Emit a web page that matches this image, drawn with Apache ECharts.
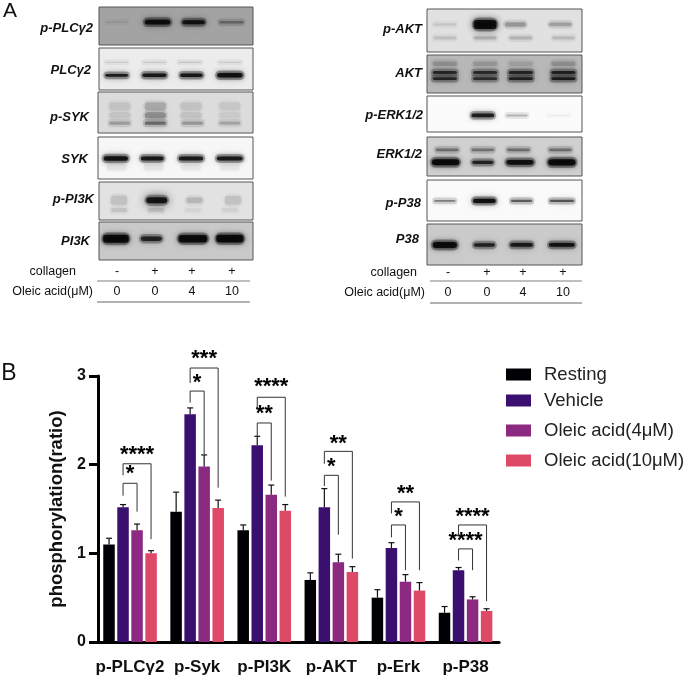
<!DOCTYPE html>
<html>
<head>
<meta charset="utf-8">
<style>
  html, body { margin: 0; padding: 0; background: #fff; }
  #chart { width: 685px; height: 676px; }
</style>
<script src="https://cdn.jsdelivr.net/npm/echarts@6/dist/echarts.min.js"></script>
</head>
<body>
<div id="chart"></div>
<script>
// bar chart values
const categories = ['p-PLCγ2', 'p-Syk', 'p-PI3K', 'p-AKT', 'p-Erk', 'p-P38'];
const seriesNames = ['Resting', 'Vehicle', 'Oleic acid(4μM)', 'Oleic acid(10μM)'];
const resting = [1.10, 1.47, 1.26, 0.70, 0.50, 0.33];
const vehicle = [1.52, 2.57, 2.22, 1.52, 1.06, 0.81];
const oleic4 = [1.26, 1.98, 1.66, 0.90, 0.68, 0.48];
const oleic10 = [1.00, 1.51, 1.48, 0.79, 0.58, 0.35];
// top of the error bars
const restingTop = [1.17, 1.69, 1.32, 0.78, 0.59, 0.40];
const vehicleTop = [1.55, 2.64, 2.32, 1.73, 1.12, 0.84];
const oleic4Top = [1.33, 2.11, 1.77, 0.99, 0.76, 0.51];
const oleic10Top = [1.03, 1.60, 1.55, 0.85, 0.67, 0.375];
// significance brackets: category, to bar, top, left end, right end, star value, stars
const brackets = [
  [0, 2, 1.79, 1.65, 1.47, 1.94, '*'],
  [0, 3, 2.01, 1.88, 1.16, 2.15, '****'],
  [1, 2, 2.83, 2.70, 2.12, 2.97, '*'],
  [1, 3, 3.09, 2.92, 1.74, 3.24, '***'],
  [2, 2, 2.47, 2.32, 1.82, 2.62, '**'],
  [2, 3, 2.76, 2.62, 1.64, 2.92, '****'],
  [3, 2, 1.88, 1.76, 1.21, 2.02, '*'],
  [3, 3, 2.15, 2.01, 0.94, 2.28, '**'],
  [4, 2, 1.32, 1.18, 0.81, 1.46, '*'],
  [4, 3, 1.58, 1.45, 0.81, 1.72, '**'],
  [5, 2, 1.05, 0.92, 0.81, 1.19, '****'],
  [5, 3, 1.32, 1.20, 0.46, 1.46, '****']
];

// band darkness per lane
const pPLCg2Band = [0.1, 0.95, 0.9, 0.35];
const PLCg2Upper = [0.14, 0.16, 0.18, 0.14];
const PLCg2Lower = [0.9, 0.92, 0.92, 0.95];
const pSYKUpper = [0.1, 0.2, 0.1, 0.08];
const pSYKMiddle = [0.09, 0.3, 0.1, 0.07];
const pSYKLower = [0.26, 0.48, 0.28, 0.22];
const SYKBand = [0.95, 0.92, 0.9, 0.9];
const SYKSmear = [0.06, 0.06, 0.05, 0.05];
const pPI3KUpper = [0.12, 0.95, 0.16, 0.12];
const pPI3KLower = [0.12, 0.12, 0.05, 0.06];
const PI3KBand = [0.97, 0.8, 0.96, 0.97];
const pAKTUpper = [0.1, 0.98, 0.28, 0.25];
const pAKTLower = [0.13, 0.2, 0.18, 0.15];
const AKTFaint = [0.2, 0.16, 0.12, 0.2];
const AKTUpper = [0.75, 0.72, 0.78, 0.8];
const AKTLower = [0.78, 0.72, 0.82, 0.85];
const pERKBand = [0, 0.88, 0.25, 0.07];
const ERKUpper = [0.42, 0.4, 0.42, 0.42];
const ERKLower = [0.98, 0.82, 0.95, 0.98];
const pP38Band = [0.45, 0.97, 0.58, 0.62];
const P38Band = [0.97, 0.82, 0.88, 0.93];

const leftLanes = [11.5, 37, 61, 86];
const rightLanes = [11.5, 37.5, 60.5, 88];
const tint = (v) => 'rgba(0,0,0,' + v + ')';

// row = band line inside a blot, y and sizes in % of the blot
function row(values, y, thick, width, blur, lanes) {
  return { values, y, thick, width, blur: blur || 3, lanes };
}
const blots = [
  { name: 'p-PLCγ2', x: 99, y: 7, w: 154, h: 38, bg: '#a3a3a3', tx: 93, ty: 28, rows: [
    row(pPLCg2Band, 40, [6, 15, 13, 9], [15, 18, 16, 17], 3, [11.5, 38, 61.5, 86])] },
  { name: 'PLCγ2', x: 99, y: 48, w: 154, h: 42, bg: '#ececec', tx: 91, ty: 70, rows: [
    row(PLCg2Upper, 34, 5, 16, 3, [11.5, 36, 59, 85]),
    row(PLCg2Lower, 65, [9, 11, 11, 13], [16, 17, 16, 18], 3, [11.5, 36, 60, 85])] },
  { name: 'p-SYK', x: 98, y: 92, w: 155, h: 41, bg: '#dcdcdc', tx: 89, ty: 117, rows: [
    row(pSYKUpper, 35, 22, 15, 9, [14, 37, 60, 85]),
    row(pSYKMiddle, 57, 18, 15, 9, [14, 37, 60, 85]),
    row(pSYKLower, 76, 10, 15, 7, [14, 37, 61, 85])] },
  { name: 'SYK', x: 98, y: 137, w: 155, h: 42, bg: '#f7f7f7', tx: 88, ty: 159, rows: [
    row(SYKSmear, 72, 18, 14, 6, [12, 36, 60, 85]),
    row(SYKBand, 51, [13, 12, 12, 12], [17, 16, 17, 18], 3, [11.5, 35, 60, 85])] },
  { name: 'p-PI3K', x: 99, y: 182, w: 154, h: 38, bg: '#e2e2e2', tx: 94, ty: 199, rows: [
    row(pPI3KLower, 74, 14, 12, 8, [13, 37, 61, 85]),
    row(pPI3KUpper, 48, [28, 18, 18, 26], [12, 15, 12, 12], 6, [13, 37.5, 62, 87])] },
  { name: 'PI3K', x: 99, y: 222, w: 154, h: 38, bg: '#c9c9c9', tx: 90, ty: 241, rows: [
    row(PI3KBand, 44, [24, 14, 22, 23], [18, 15, 20, 19], 3, [11, 34, 61, 85])] },
  { name: 'p-AKT', x: 427, y: 9, w: 155, h: 43, bg: '#e1e1e1', tx: 422, ty: 29, rows: [
    row(pAKTLower, 67, 10, 16, 7, rightLanes),
    row(pAKTUpper, 36, [8, 23, 13, 11], [16, 16, 15, 16], 4, [11.5, 37.5, 57, 86])] },
  { name: 'AKT', x: 427, y: 55, w: 155, h: 38, bg: '#b8b8b8', tx: 422, ty: 73, rows: [
    row(AKTFaint, 23, 14, 17, 6, [11.5, 37.5, 60.5, 88]),
    row(AKTUpper, 46, 11, 17, 3, [11.5, 37.5, 60.5, 88]),
    row(AKTLower, 62, 10, 17, 3, [11.5, 37.5, 60.5, 88])] },
  { name: 'p-ERK1/2', x: 427, y: 96, w: 155, h: 36, bg: '#fbfbfb', tx: 423, ty: 115, rows: [
    row(pERKBand, 54, [4, 13, 8, 5], [15, 16, 15, 16], 3, [11.5, 36, 58, 85])] },
  { name: 'ERK1/2', x: 427, y: 137, w: 155, h: 39, bg: '#d0d0d0', tx: 422, ty: 154, rows: [
    row(ERKUpper, 33, 9, 16, 3, [13, 36, 59, 86]),
    row(ERKLower, 65, [18, 11, 15, 19], [19, 15, 19, 19], 3, [12, 36, 60, 87])] },
  { name: 'p-P38', x: 427, y: 180, w: 155, h: 41, bg: '#fafafa', tx: 421, ty: 203, rows: [
    row(pP38Band, 51, [7, 13, 8, 8], [15, 16, 15, 17], 3, [11.5, 37, 61, 87])] },
  { name: 'P38', x: 427, y: 224, w: 155, h: 41, bg: '#cbcbcb', tx: 419, ty: 239, rows: [
    row(P38Band, 51, [17, 11, 12, 12], [17, 15, 16, 18], 3, [11.5, 37, 61, 87])] }
];

// text under the blots
const collagenMarks = ['-', '+', '+', '+'];
const doseLabels = ['0', '0', '4', '10'];
const doseUnderLeft = { x: [117, 155, 192, 232], textX: 76, nameX: 93, y1: 272, y2: 292, line1: 281, line2: 302, from: 97, to: 250 };
const doseUnderRight = { x: [448, 487, 523, 563], textX: 417, nameX: 425, y1: 273, y2: 293, line1: 281, line2: 303, from: 430, to: 582 };

const fontFam = '"Liberation Sans", Arial, sans-serif';
const barPitch = 14;   // distance between bars in a group

function textEl(text, x, y, font, align) {
  return {
    type: 'text', silent: true,
    style: { text, x, y, font, fill: '#111', textAlign: align || 'center', textVerticalAlign: 'middle', align: align || 'center', verticalAlign: 'middle' }
  };
}
function lineEl(x1, y, x2, color, width) {
  return { type: 'line', silent: true, shape: { x1, y1: y, x2, y2: y }, style: { stroke: color, lineWidth: width } };
}

let graphicEls = [
  textEl('A', 10, 11, '21px ' + fontFam),
  textEl('B', 9, 374, '23px ' + fontFam)
];
blots.forEach(function (b) {
  graphicEls.push(textEl(b.name, b.tx, b.ty, 'italic bold 13px ' + fontFam, 'right'));
});
[doseUnderLeft, doseUnderRight].forEach(function (u) {
  graphicEls.push(textEl('collagen', u.textX, u.y1, '12.5px ' + fontFam, 'right'));
  graphicEls.push(textEl('Oleic acid(μM)', u.nameX, u.y2, '12.5px ' + fontFam, 'right'));
  u.x.forEach(function (x, i) {
    graphicEls.push(textEl(collagenMarks[i], x, u.y1, '12.5px ' + fontFam));
    graphicEls.push(textEl(doseLabels[i], x, u.y2, '12.5px ' + fontFam));
  });
  graphicEls.push(lineEl(u.from, u.line1, u.to, '#aaaaaa', 1.5));
  graphicEls.push(lineEl(u.from, u.line2, u.to, '#666666', 1));
});

const barColors = ['#000004', '#3b0f70', '#8c2981', '#de4968'];
const allValues = [resting, vehicle, oleic4, oleic10];
const allTops = [restingTop, vehicleTop, oleic4Top, oleic10Top];

// main grid first, blots after it
let grids = [{ left: 96.5, width: 402.6, top: 376, height: 267 }];
let xAxes = [{
  type: 'category', data: categories, gridIndex: 0,
  axisLine: { lineStyle: { color: '#000', width: 3 } },
  axisTick: { alignWithLabel: true, length: 9, lineStyle: { color: '#000', width: 3 } },
  axisLabel: { color: '#111', fontSize: 17, fontWeight: 'bold', fontFamily: fontFam, margin: 17, interval: 0 }
}];
let yAxes = [{
  type: 'value', gridIndex: 0, min: 0, max: 3, interval: 1, offset: -1.5,
  name: 'phosphorylation(ratio)', nameLocation: 'middle', nameGap: 31,
  nameTextStyle: { color: '#111', fontSize: 18.5, fontWeight: 'bold', fontFamily: fontFam },
  axisLine: { show: true, lineStyle: { color: '#000', width: 3 } },
  axisTick: { show: true, length: 9, lineStyle: { color: '#000', width: 3 } },
  axisLabel: { color: '#111', fontSize: 16, fontWeight: 'bold', fontFamily: fontFam, margin: 12 },
  splitLine: { show: false }
}];

let series = [];
seriesNames.forEach(function (name, s) {
  series.push({
    name, type: 'bar', data: allValues[s], barWidth: 11.5, barGap: '22%',
    itemStyle: { color: barColors[s] }, silent: true
  });
});

// error bars
seriesNames.forEach(function (name, s) {
  series.push({
    type: 'custom', silent: true, z: 3,
    data: allTops[s].map((t, i) => [i, allValues[s][i], t]),
    encode: { x: 0, y: 2 },
    renderItem: function (params, api) {
      const bottom = api.coord([api.value(0), api.value(1)]);
      const top = api.coord([api.value(0), api.value(2)]);
      const x = bottom[0] + (s - 1.5) * barPitch;
      const st = { stroke: '#111', lineWidth: 1.2, fill: null };
      return { type: 'group', children: [
        { type: 'line', shape: { x1: x, y1: bottom[1], x2: x, y2: top[1] }, style: st },
        { type: 'line', shape: { x1: x - 3, y1: top[1], x2: x + 3, y2: top[1] }, style: st }
      ] };
    }
  });
});

// brackets and stars
series.push({
  type: 'custom', silent: true, z: 4,
  data: brackets.map((b) => [b[0], b[2], b[3], b[4], b[5]]),
  encode: { x: 0, y: 1 },
  renderItem: function (params, api) {
    const b = brackets[params.dataIndex];
    const centre = api.coord([b[0], 0])[0];
    const xl = centre - 0.5 * barPitch;
    const xr = centre + (b[1] - 1.5) * barPitch;
    const py = (v) => api.coord([b[0], v])[1];
    return { type: 'group', children: [
      { type: 'polyline',
        shape: { points: [[xl, py(b[3])], [xl, py(b[2])], [xr, py(b[2])], [xr, py(b[4])]] },
        style: { stroke: '#333', lineWidth: 1, fill: null } },
      { type: 'text',
        style: { text: b[6], x: (xl + xr) / 2, y: py(b[5]) + 4, fill: '#000', font: 'bold 22px ' + fontFam,
          textAlign: 'center', textVerticalAlign: 'middle', align: 'center', verticalAlign: 'middle' } }
    ] };
  }
});

// blots: each one is a small grid with 0-100 axes
blots.forEach(function (b, i) {
  const idx = i + 1;
  grids.push({
    left: b.x, top: b.y, width: b.w, height: b.h, show: true,
    backgroundColor: b.bg, borderColor: '#555', borderWidth: 1
  });
  xAxes.push({ type: 'value', gridIndex: idx, min: 0, max: 100, show: false });
  yAxes.push({ type: 'value', gridIndex: idx, min: 0, max: 100, inverse: true, show: false });
  b.rows.forEach(function (r) {
    const lanes = r.lanes || (b.x < 300 ? leftLanes : rightLanes);
    series.push({
      type: 'custom', xAxisIndex: idx, yAxisIndex: idx, silent: true, clip: true,
      data: r.values.map((v, lane) => [lanes[lane], r.y, v]),
      encode: { x: 0, y: 1 },
      renderItem: function (params, api) {
        const lane = params.dataIndex;
        const w = Array.isArray(r.width) ? r.width[lane] : r.width;
        const t = Array.isArray(r.thick) ? r.thick[lane] : r.thick;
        const c = api.coord([api.value(0), api.value(1)]);
        const sz = api.size([w, t]);
        const d = api.value(2);
        const soft = Math.min(sz[1], 6);
        // soft halo under a core, the real gel bands have no hard edge
        return { type: 'group', children: [
          { type: 'rect',
            shape: { x: c[0] - sz[0] / 2 - 1, y: c[1] - sz[1] / 2 - 2, width: sz[0] + 2, height: sz[1] + 4, r: sz[1] / 2 + 2 },
            style: { fill: tint(d * 0.3), shadowBlur: r.blur + 5, shadowColor: tint(d * 0.4) } },
          { type: 'rect',
            shape: { x: c[0] - sz[0] / 2 + 1, y: c[1] - sz[1] / 2 + 0.5, width: sz[0] - 2, height: sz[1] - 1, r: soft / 2 },
            style: { fill: tint(d * 0.85), shadowBlur: r.blur + 2, shadowColor: tint(d) } }
        ] };
      }
    });
  });
});

// legend spacing is uneven in the figure, so one legend per row
const legendTops = [365, 391, 421, 451];
const legends = seriesNames.map(function (name, i) {
  return {
    data: [name], left: 506, top: legendTops[i], orient: 'vertical', padding: 0,
    icon: 'rect', itemWidth: 25, itemHeight: 12, selectedMode: false,
    textStyle: { color: '#222', fontSize: 18.5, fontFamily: fontFam, padding: [0, 0, 0, 8] }
  };
});

const myChart = echarts.init(document.getElementById('chart'));
myChart.setOption({
  animation: false,
  backgroundColor: '#fff',
  legend: legends,
  grid: grids,
  xAxis: xAxes,
  yAxis: yAxes,
  series: series,
  graphic: { elements: graphicEls }
});
</script>
</body>
</html>
